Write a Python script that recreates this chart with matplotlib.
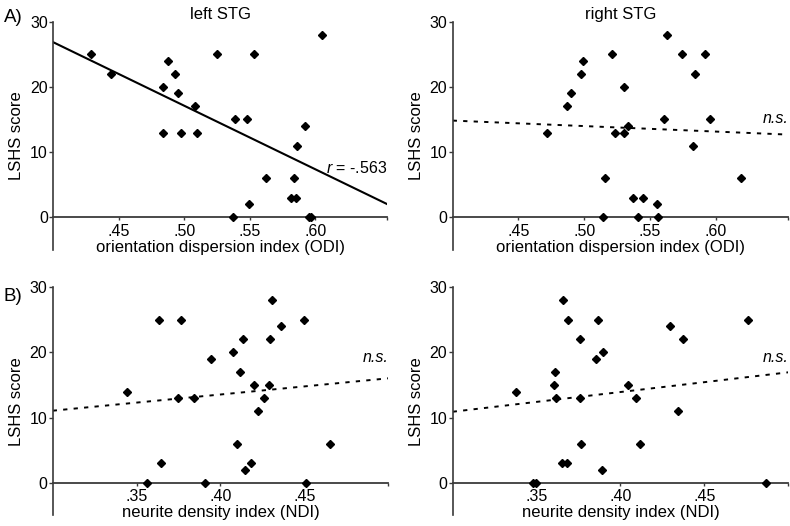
import matplotlib.pyplot as plt
import numpy as np

plt.rcParams['font.family'] = ['Liberation Sans', 'DejaVu Sans']
plt.rcParams['mathtext.fontset'] = 'custom'
plt.rcParams['mathtext.rm'] = 'Liberation Sans'
plt.rcParams['mathtext.it'] = 'Liberation Sans:italic'

# LSHS scores
lshs_odi_left = [25, 22, 24, 22, 20, 19, 17, 13, 13, 13, 25, 25, 15, 15, 14, 11, 28, 6, 6, 3, 3, 2, 0, 0, 0]
odi_left = [.4289, .4444, .4873, .4932, .4835, .4950, .5079, .4838, .4975, .5095, .5252, .5534, .5384,
            .5481, .5918, .5857, .6055, .5620, .5836, .5813, .5849, .5493, .5374, .5955, .5965]

lshs_odi_right = [13, 17, 19, 22, 24, 25, 20, 13, 13, 14, 6, 0, 3, 3, 0, 2, 0, 28, 15, 25, 25, 22, 15, 11, 6]
odi_right = [.4718, .4871, .4896, .4973, .4990, .5209, .5300, .5232, .5303, .5333, .5161, .5143, .5369,
             .5448, .5412, .5552, .5559, .5631, .5605, .5742, .5920, .5844, .5953, .5829, .6190]

lshs_ndi_left = [14, 25, 25, 3, 0, 13, 13, 19, 20, 22, 17, 15, 15, 13, 11, 6, 3, 2, 0, 28, 24, 22, 25, 6, 0]
ndi_left = [.3443, .3636, .3765, .3645, .3565, .3748, .3842, .3946, .4076, .4135, .4117, .4199, .4290,
            .4262, .4225, .4099, .4182, .4148, .3905, .4305, .4362, .4296, .4500, .4655, .4510]

lshs_ndi_right = [14, 15, 17, 13, 28, 25, 22, 13, 6, 3, 3, 0, 0, 19, 25, 20, 2, 15, 13, 6, 24, 22, 11, 25, 0]
ndi_right = [.3378, .3602, .3612, .3614, .3658, .3687, .3760, .3756, .3764, .3653, .3679, .3479, .3499,
             .3853, .3865, .3898, .3888, .4045, .4094, .4116, .4298, .4373, .4343, .4761, .4868]

# regression lines (slope, intercept)
fit_slopes = [-97.4, -8.43, 24.85, 30.25]
fit_intercepts = [65.8, 18.20, 3.605, 1.825]
fit_labels = ['$r$ = -.563', 'n.s.', 'n.s.', 'n.s.']
label_y = [6.3, 14.0, 18.0, 18.0]

odi_ticks = [.45, .50, .55, .60]
odi_ticklabels = ['.45', '.50', '.55', '.60']
ndi_ticks = [.35, .40, .45]
ndi_ticklabels = ['.35', '.40', '.45']

AXCOL = '#3a3a3a'


def panel(fig, rect, x, y, k, xlim, ticks, ticklabels, xlabel):
    ax = fig.add_axes(rect)
    ax.set_xlim(xlim)
    ax.set_ylim(-5, 30)
    ax.plot(x, y, 'D', color='black', markersize=3.9, clip_on=False, zorder=3)

    xs = np.array(xlim)
    ls = '-' if k == 0 else (0, (2.2, 3.2))
    ax.plot(xs, fit_slopes[k] * xs + fit_intercepts[k], color='black', lw=1.5 if k == 0 else 1.4, ls=ls)
    ax.text(xlim[1], label_y[k], fit_labels[k], ha='right', va='bottom', fontsize=11.5,
            style='normal' if k == 0 else 'italic')

    # x axis sits at score 0
    for s in ['top', 'right']:
        ax.spines[s].set_visible(False)
    ax.spines['bottom'].set_position(('data', 0))
    ax.spines['bottom'].set_color(AXCOL)
    ax.spines['bottom'].set_linewidth(1.3)
    ax.spines['left'].set_color(AXCOL)
    ax.spines['left'].set_linewidth(1.2)

    ax.set_yticks([0, 10, 20, 30])
    ax.set_xticks(ticks)
    ax.set_xticklabels(ticklabels)
    ax.set_xticks([xlim[1]], minor=True)
    ax.tick_params(axis='y', length=3, width=1, color=AXCOL, labelsize=11.5, pad=1)
    ax.tick_params(axis='x', which='both', direction='out', length=2.5, width=1, color=AXCOL,
                   labelsize=11.5, pad=2)
    ax.set_xlabel(xlabel, fontsize=12, labelpad=1)
    ax.set_ylabel('LSHS score', fontsize=12, labelpad=4)
    return ax


def main():
    fig = plt.figure(figsize=(7.9, 5.26), dpi=100)

    ax1 = panel(fig, [0.0675, 0.525, 0.4228, 0.4338], odi_left, lshs_odi_left, 0, (0.40, 0.655),
                odi_ticks, odi_ticklabels, 'orientation dispersion index (ODI)')
    ax2 = panel(fig, [0.573, 0.525, 0.4248, 0.4338], odi_right, lshs_odi_right, 1, (0.40, 0.655),
                odi_ticks, odi_ticklabels, 'orientation dispersion index (ODI)')
    panel(fig, [0.0667, 0.0203, 0.4248, 0.4335], ndi_left, lshs_ndi_left, 2, (0.30, 0.50),
          ndi_ticks, ndi_ticklabels, 'neurite density index (NDI)')
    panel(fig, [0.573, 0.0203, 0.4248, 0.4335], ndi_right, lshs_ndi_right, 3, (0.30, 0.50),
          ndi_ticks, ndi_ticklabels, 'neurite density index (NDI)')

    ax1.set_title('left STG', fontsize=12, pad=2)
    ax2.set_title('right STG', fontsize=12, pad=2)

    fig.text(0.005, 0.966, 'A)', fontsize=13.5, va='center')
    fig.text(0.005, 0.437, 'B)', fontsize=13.5, va='center')

    fig.savefig('out.png', dpi=100)


if __name__ == '__main__':
    main()
